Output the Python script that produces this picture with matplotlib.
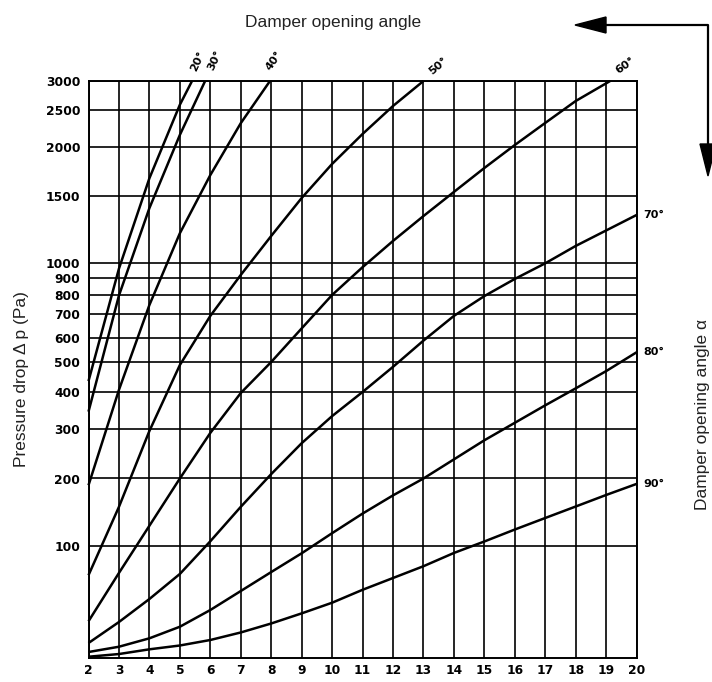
import numpy as np
import matplotlib
matplotlib.use("Agg")
import matplotlib.pyplot as plt
from matplotlib.patches import Polygon
from matplotlib.lines import Line2D

# ---------------- data ----------------
velocity_ticks = list(range(2, 21))
pressure_ticks = [100, 200, 300, 400, 500, 600, 700, 800, 900, 1000, 1500, 2000, 2500, 3000]

x20 = [2, 3, 4, 5, 5.4]
y20 = [437, 963, 1680, 2590, 3000]

x30 = [2, 3, 4, 5, 5.83]
y30 = [348, 800, 1410, 2160, 3000]

x40 = [2, 3, 4, 5, 6, 7, 7.96]
y40 = [190, 408, 750, 1223, 1712, 2320, 3000]

x50 = [2, 3, 4, 5, 6, 7, 8, 9, 10, 11, 12, 13]
y50 = [74, 158, 297, 490, 694, 919, 1203, 1485, 1825, 2173, 2569, 3000]

x60 = [2, 3, 4, 5, 6, 7, 8, 9, 10, 11, 12, 13, 14, 15, 16, 17, 18, 19, 19.13]
y60 = [33, 76, 130, 200, 293, 398, 500, 640, 803, 973, 1166, 1351, 1541, 1784, 2023, 2324, 2655, 2960, 3000]

x70 = [2, 3, 4, 5, 6, 7, 8, 9, 10, 11, 12, 13, 14, 15, 16, 17, 18, 19, 20]
y70 = [13.6, 32.3, 52.8, 75.1, 107, 158, 209, 272, 336, 401, 484, 588, 694, 797, 893, 1000, 1129, 1244, 1359]

x80 = [2, 3, 4, 5, 6, 7, 8, 9, 10, 11, 12, 13, 14, 15, 16, 17, 18, 19, 20]
y80 = [5.6, 10.3, 17.8, 28.1, 43, 59.9, 76.8, 93.5, 119, 148, 175, 200, 239, 278, 318, 365, 413, 470, 540]

x90 = [2, 3, 4, 5, 6, 7, 8, 9, 10, 11, 12, 13, 14, 15, 16, 17, 18, 19, 20]
y90 = [1.4, 3.8, 8, 11.4, 16.3, 23, 31, 40, 49.5, 61, 71.5, 82, 93.8, 106.7, 124.4, 141.5, 158.5, 175.6, 192]

angle_labels = ["20°", "30°", "40°", "50°", "60°", "70°", "80°", "90°"]

# ---------------- nonstandard pressure scale (calibrated from the gridlines) ----------------
SCALE_VALUES = np.array([0, 100, 200, 300, 400, 500, 600, 700, 800, 900, 1000, 1500, 2000, 2500, 3000], float)
SCALE_POS = np.array([0, 112.3, 179.8, 228.8, 266, 296.3, 320.6, 343.8, 362.8, 380.6, 395, 462.3, 511.6, 548.3, 577.3])


def _interp_ext(v, xs, ys):
    v = np.asarray(v, dtype=float)
    out = np.interp(v, xs, ys)
    lo = (ys[1] - ys[0]) / (xs[1] - xs[0])
    hi = (ys[-1] - ys[-2]) / (xs[-1] - xs[-2])
    out = np.where(v < xs[0], ys[0] + (v - xs[0]) * lo, out)
    out = np.where(v > xs[-1], ys[-1] + (v - xs[-1]) * hi, out)
    return out


def fwd(v):
    return _interp_ext(v, SCALE_VALUES, SCALE_POS)


def inv(p):
    return _interp_ext(p, SCALE_POS, SCALE_VALUES)


# ---------------- figure ----------------
W, H = 712, 682
fig = plt.figure(figsize=(W / 100, H / 100), dpi=100)
L, R, T, B = 88.5, 636.6, 81, 658.3
ax = fig.add_axes([L / W, 1 - B / H, (R - L) / W, (B - T) / H])
ax.set_yscale("function", functions=(fwd, inv))
ax.set_xlim(2, 20)
ax.set_ylim(0, 3000)

ax.set_xticks(velocity_ticks)
ax.set_xticklabels([str(v) for v in velocity_ticks])
ax.set_yticks(pressure_ticks)
ax.set_yticklabels([str(v) for v in pressure_ticks])
ax.minorticks_off()
ax.tick_params(length=0)
ax.tick_params(axis="y", pad=6)
ax.tick_params(axis="x", pad=4)
for lab in ax.get_xticklabels() + ax.get_yticklabels():
    lab.set_fontweight("bold")
    lab.set_fontsize(8.8)
    lab.set_family("DejaVu Sans")

ax.grid(True, color="black", linewidth=1.2)
for s in ax.spines.values():
    s.set_linewidth(1.4)
    s.set_color("black")

curves = [(x20, y20), (x30, y30), (x40, y40), (x50, y50), (x60, y60), (x70, y70), (x80, y80), (x90, y90)]
for xs, ys in curves:
    ax.plot(xs, ys, color="black", linewidth=1.8, clip_on=False,
            solid_capstyle="butt", solid_joinstyle="round")

# curve labels
top_offsets = [(4, 14, 65), (7, 15, 65), (3, 15, 55), (11, 11, 40), (11, 11, 35)]
for (xs, ys), lab, (dx, dy, rot) in zip(curves[:5], angle_labels[:5], top_offsets):
    ax.annotate(lab, xy=(xs[-1], ys[-1]), xytext=(dx, dy), textcoords="offset points",
                ha="center", va="center", rotation=rot, fontsize=8, fontweight="bold")
for (xs, ys), lab in zip(curves[5:], angle_labels[5:]):
    ax.annotate(lab, xy=(xs[-1], ys[-1]), xytext=(5, 0), textcoords="offset points",
                ha="left", va="center", fontsize=8, fontweight="bold")

# axis titles
txt_kw = dict(family=["Liberation Sans", "DejaVu Sans"], fontsize=12.5, color="#222222")
fig.text(22 / W, 1 - 379 / H, "Pressure drop \u0394 p (Pa)", rotation=90, ha="center", va="center", **txt_kw)
fig.text(703 / W, 1 - 414 / H, "Damper opening angle \u03b1", rotation=90, ha="center", va="center", **txt_kw)
fig.text(333 / W, 1 - 22 / H, "Damper opening angle", ha="center", va="center", **txt_kw)


# direction arrow (figure pixels)
def fp(x, y):
    return (x / W, 1 - y / H)


line = Line2D([605 / W, 708 / W, 708 / W], [1 - 25 / H, 1 - 25 / H, 1 - 145 / H],
              transform=fig.transFigure, color="black", linewidth=1.6)
fig.add_artist(line)
fig.add_artist(Polygon([fp(575, 25), fp(606, 17), fp(606, 33)], closed=True,
                       transform=fig.transFigure, color="black"))
fig.add_artist(Polygon([fp(708, 176), fp(700, 144), fp(716, 144)], closed=True,
                       transform=fig.transFigure, color="black"))

fig.savefig("out.png", dpi=100)
